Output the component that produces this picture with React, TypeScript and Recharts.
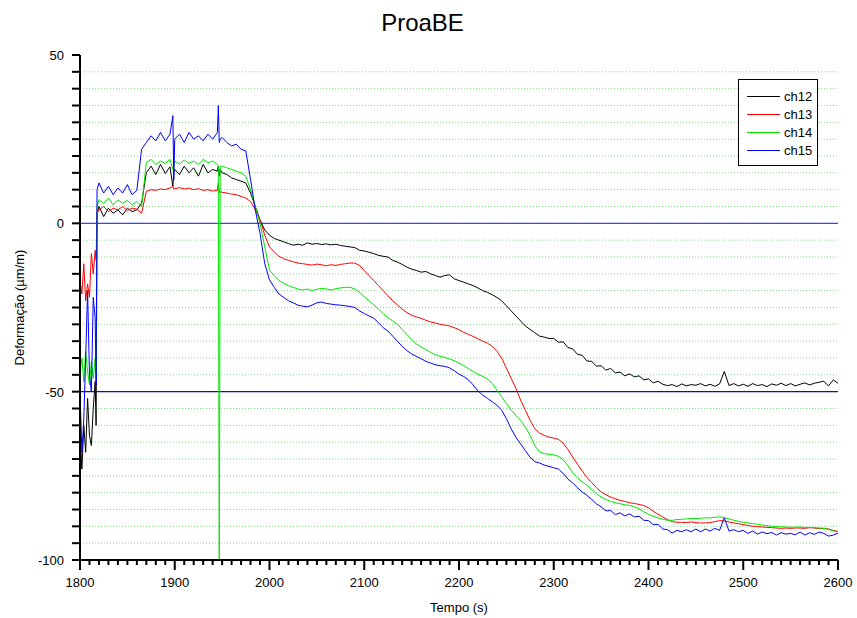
import React from "react";
import {
  CartesianGrid,
  Legend,
  Line,
  LineChart,
  ReferenceLine,
  XAxis,
  YAxis,
} from "recharts";

// time (s)
const times = [
  1800, 1802, 1804, 1806, 1808, 1810, 1812, 1814, 1816, 1817, 1818, 1820,
  1825, 1830, 1835, 1840, 1845, 1850, 1855, 1860, 1865, 1870, 1875, 1880, 1885, 1890, 1895,
  1898, 1899, 1900, 1905, 1910, 1915, 1920, 1925, 1930, 1935, 1940, 1945,
  1946, 1947, 1948, 1950, 1955, 1960, 1965, 1970, 1975, 1980, 1985, 1990, 1995,
  2000, 2005, 2010, 2015, 2020, 2025, 2030, 2035, 2040, 2045,
  2050, 2055, 2060, 2065, 2070, 2075, 2080, 2085, 2090, 2095,
  2100, 2105, 2110, 2115, 2120, 2125, 2130, 2135, 2140, 2145,
  2150, 2155, 2160, 2165, 2170, 2175, 2180, 2185, 2190, 2195,
  2200, 2205, 2210, 2215, 2220, 2225, 2230, 2235, 2240, 2245,
  2250, 2255, 2260, 2265, 2270, 2275, 2280, 2285, 2290, 2295,
  2300, 2305, 2310, 2315, 2320, 2325, 2330, 2335, 2340, 2345,
  2350, 2355, 2360, 2365, 2370, 2375, 2380, 2385, 2390, 2395,
  2400, 2405, 2410, 2415, 2420, 2425, 2430, 2435, 2440, 2445,
  2450, 2455, 2460, 2465, 2470, 2475, 2480, 2485, 2490, 2495,
  2500, 2505, 2510, 2515, 2520, 2525, 2530, 2535, 2540, 2545,
  2550, 2555, 2560, 2565, 2570, 2575, 2580, 2585, 2590, 2595, 2600,
];

const ch12 = [
  -62, -73, -60, -68, -52, -63, -66, -55, -47, -60, 3, 5,
  2, 4.5, 3, 4, 2.5, 4.5, 3.5, 4, 6, 15, 17, 14.5, 17.5, 14.8, 16.8,
  11, 15, 16, 14.5, 17, 15, 16.5, 14, 17.5, 15, 16, 15.5,
  17, 14, 16, 15, 14.5, 13.5, 13, 12.5, 12, 9, 5, 1, -2,
  -3.5, -4.5, -5, -5.5, -6, -6.5, -6.2, -6.5, -5.8, -6.2,
  -6, -6.3, -6.1, -6.4, -6.2, -6.6, -6.8, -7, -7.2, -8,
  -8.2, -8.6, -9, -9.5, -9.8, -10, -11, -11.5, -12.2, -13,
  -13.6, -14, -14.5, -14.3, -15, -15.5, -16, -15.5, -15.3, -16.5,
  -17, -17.5, -18, -18.5, -19.2, -20, -20.5, -21.2, -22, -23,
  -24.5, -26, -27.5, -29, -30.5, -31.5, -32.5, -33.5, -33.8, -34.2,
  -34.2, -35.3, -35.2, -36.9, -37.3, -38.9, -39.2, -40.9, -41, -42.4,
  -42.3, -43.6, -43.1, -44.4, -44.2, -45.3, -44.7, -45.6, -45.3, -46.5,
  -46.2, -47.4, -46.9, -47.8, -48.2, -47.9, -48.5, -47.7, -48.3, -47.9,
  -48.1, -47.6, -48.3, -47.8, -48.4, -47.7, -44, -48.2, -47.6, -48.3,
  -47.8, -48.4, -47.6, -48.2, -47.9, -48.5, -47.7, -48.1, -47.5, -48.2,
  -47.6, -48.3, -47.8, -47.4, -48, -47.5, -47.2, -46.9, -48.3, -46.5, -47.5,
];

const ch13 = [
  -17, -21, -12, -23, -18, -22, -9, -15, -8, -11, 3, 4,
  5, 3.5, 4.5, 4, 5, 3.8, 4.5, 4.2, 3, 9.5, 10, 9.8, 10.2, 10, 10.5,
  11, 10.2, 10.3, 10.6, 10.2, 10.5, 10, 10.3, 9.8, 10, 9.6, 9.8,
  12, 9, 9.5, 9.2, 9, 8.7, 8.5, 8, 7.5, 6.5, 4, 1, -3.5,
  -7, -8.5, -9.8, -10.5, -11, -11.4, -11.8, -12, -12.2, -12.4,
  -12.1, -12.3, -12.6, -12.3, -12.5, -12.2, -12, -11.8, -11.8, -12.5,
  -14, -15.5, -17, -18.5, -20, -21.5, -23, -24.2, -25.5, -26.5,
  -27.3, -27.8, -28.2, -28.8, -29.3, -29.6, -30, -30.2, -30.5, -31,
  -31.6, -32.4, -33, -33.6, -34.3, -35, -35.6, -36.5, -38, -40,
  -43, -46, -49, -52.5, -55.5, -58.5, -61, -62.3, -63, -63.5,
  -63.8, -64.2, -65.3, -67.2, -69.4, -71.5, -73.5, -75.5, -77, -78.5,
  -79.8, -80.6, -81.3, -81.8, -82.3, -82.6, -83, -83.2, -83.5, -83.8,
  -84.5, -85.5, -86.4, -87.2, -88, -88.6, -88.8, -88.8, -88.9, -88.7,
  -88.9, -89, -89, -88.9, -88.6, -88.3, -88.4, -88.7, -89, -89.2,
  -89.5, -89.7, -90, -90.1, -90.2, -90.3, -90.4, -90.5, -90.6, -90.5,
  -90.6, -90.5, -90.5, -90.6, -90.4, -90.5, -90.7, -90.6, -90.8, -91.2, -91.5,
];

const ch14 = [
  -45, -40, -47, -38, -44, -48, -41, -46, -40, -45, 5, 7,
  6, 7.5, 5.5, 7, 6, 6.8, 5.5, 6.5, 5, 18, 19, 17.5, 18.5, 17.8, 19,
  16, 17.5, 18.5, 17.6, 18.8, 17.8, 18.5, 17.5, 19, 18, 18.5, 17.5,
  17, -110, 17, 17, 16.5, 16, 15.5, 15, 14, 10, 5, 0, -7,
  -13.9, -15.5, -17, -17.8, -18.5, -19, -19.5, -19.8, -19.5, -20,
  -19.6, -19.3, -19.5, -19.8, -19.4, -19.2, -19, -19, -19.5, -20.5,
  -21.8, -23, -24.2, -25.5, -26.8, -28, -29, -30, -31.5, -33,
  -34.5, -35.8, -36.7, -37.5, -38.3, -39, -39.5, -39.8, -40.3, -40.8,
  -41.5, -42.3, -43.2, -44, -44.8, -45.5, -46.2, -47.5, -49.5, -51.5,
  -53.5, -55.5, -57, -58.5, -60.5, -63, -66, -67.9, -68.4, -68.6,
  -68.8, -69.2, -70.2, -72, -74.1, -75.6, -76.8, -77.8, -79, -80.3,
  -81.3, -82, -82.6, -83, -83.3, -83.6, -83.8, -84.2, -84.8, -85.7,
  -86.4, -87, -87.5, -87.9, -88.2, -88.2, -88, -87.9, -87.8, -87.7,
  -87.7, -87.6, -87.5, -87.5, -87.3, -87.2, -87.4, -87.8, -88.2, -88.5,
  -88.8, -89, -89.2, -89.4, -89.6, -89.8, -90, -90.1, -90.1, -90.2,
  -90.3, -90.2, -90.2, -90.4, -90.3, -90.4, -90.5, -90.6, -90.9, -91.4, -91.6,
];

const ch15 = [
  -50, -68, -58, -40, -20, -45, -50, -22, -28, -48, 10, 12,
  9, 11, 8.5, 10.5, 9, 11.5, 8.5, 9.8, 22, 24, 26, 24.5, 27, 24.5, 26.5,
  32, 13, 25, 26.5, 24, 27, 25, 26, 24.5, 26.5, 25, 27,
  35, 24, 25, 25.5, 24, 23, 23.5, 22, 21.5, 13, 4, -3, -12,
  -16.8, -19, -21, -22, -23, -23.6, -24.3, -24.6, -24.8, -24.3,
  -23.6, -23.4, -23.8, -24, -24.2, -24.3, -24.5, -24.7, -25, -26,
  -26.8, -27.5, -28.2, -29.5, -31, -32, -33.5, -35, -36.5, -37.8,
  -38.8, -39.5, -40.2, -41, -41.5, -42, -42.3, -42.5, -42.9, -43.8,
  -44.8, -45.5, -46.5, -48, -49.8, -51, -52, -53, -54, -55.5,
  -58, -61, -63.5, -65.5, -67.5, -69.5, -70.8, -71.2, -71.8, -72.2,
  -72.6, -73, -74.3, -76, -77.1, -78.5, -79.8, -80.8, -82, -83.3,
  -84.2, -85.4, -85.3, -86.5, -86, -86.9, -86.3, -87.2, -87, -88.2,
  -88.3, -89.5, -89.4, -90.8, -91, -92, -91.2, -91.6, -91, -91.6,
  -90.8, -91.6, -90.8, -91.4, -90.6, -91.2, -87.5, -91.4, -91, -91.6,
  -91.2, -92.1, -91.4, -92.3, -91.7, -92.2, -91.8, -92.6, -91.9, -92.3,
  -92.1, -92.5, -91.7, -92.6, -91.9, -92.4, -91.7, -92.1, -92.9, -92.6, -92,
];

const seriesNames = ["ch12", "ch13", "ch14", "ch15"];
const seriesColors = ["#000000", "#ff0000", "#00e600", "#0000ff"];

const xMajor = [1800, 1900, 2000, 2100, 2200, 2300, 2400, 2500, 2600];
const yLabels = [50, 0, -50, -100];

const xTicks: number[] = [];
for (let v = 1800; v <= 2600; v += 10) xTicks.push(v);
const yTicks: number[] = [];
for (let v = -100; v <= 50; v += 5) yTicks.push(v);
const gridValues = yTicks.filter((v) => v !== 50 && v !== -100);

const data = times.map((t, i) => ({
  t,
  ch12: ch12[i],
  ch13: ch13[i],
  ch14: ch14[i],
  ch15: ch15[i],
}));

const FONT = '"Liberation Sans", Arial, sans-serif';

const XTick = (props: any) => {
  const { x, y, payload } = props;
  const v = payload.value;
  const major = xMajor.includes(v);
  return (
    <g>
      <line x1={x} x2={x} y1={y} y2={y + (major ? 10 : 5)} stroke="#000" strokeWidth={2} />
      {major && (
        <text x={x} y={y + 27} textAnchor="middle" fontSize={13} fontFamily={FONT} fill="#000">
          {v}
        </text>
      )}
    </g>
  );
};

const YTick = (props: any) => {
  const { x, y, payload } = props;
  const v = payload.value;
  return (
    <g>
      <line x1={x - 8} x2={x} y1={y} y2={y} stroke="#000" strokeWidth={2} />
      {yLabels.includes(v) && (
        <text x={x - 16} y={y + 5} textAnchor="end" fontSize={13} fontFamily={FONT} fill="#000">
          {v}
        </text>
      )}
    </g>
  );
};

const LegendBox = (props: any) => {
  const { payload } = props;
  return (
    <div
      style={{
        width: 80,
        height: 87,
        border: "1px solid #000",
        background: "#fff",
        fontFamily: FONT,
        fontSize: 13,
        paddingTop: 7,
        boxSizing: "border-box",
      }}
    >
      {(payload || []).map((p: any) => (
        <div key={p.value} style={{ display: "flex", alignItems: "center", height: 18 }}>
          <div style={{ width: 33, height: 1, background: p.color, marginLeft: 8, marginRight: 4 }} />
          <span style={{ color: "#000" }}>{p.value}</span>
        </div>
      ))}
    </div>
  );
};

export default function App() {
  return (
    <div
      style={{
        position: "absolute",
        left: 0,
        top: 0,
        width: 857,
        height: 618,
        background: "#fff",
      }}
    >
      <div
        style={{
          position: "absolute",
          left: 0,
          width: 857,
          top: 9,
          textAlign: "center",
          fontFamily: FONT,
          fontSize: 24,
        }}
      >
        <span style={{ position: "relative", left: -6 }}>ProaBE</span>
      </div>
      <LineChart
        width={857}
        height={618}
        data={data}
        margin={{ top: 55, right: 19, bottom: 0, left: 0 }}
      >
        <CartesianGrid
          vertical={false}
          horizontalValues={gridValues}
          stroke="#7fdc7f"
          strokeDasharray="1 2"
        />
        <XAxis
          dataKey="t"
          type="number"
          domain={[1800, 2600]}
          ticks={xTicks}
          interval={0}
          height={58}
          tickSize={0}
          tickMargin={0}
          tickLine={false}
          tick={<XTick />}
          axisLine={{ stroke: "#000", strokeWidth: 2 }}
          allowDataOverflow
          label={{
            value: "Tempo (s)",
            position: "insideBottom",
            offset: 6,
            fontSize: 13,
            fontFamily: FONT,
            fill: "#000",
          }}
        />
        <YAxis
          type="number"
          domain={[-100, 50]}
          ticks={yTicks}
          interval={0}
          width={80}
          tickSize={0}
          tickMargin={0}
          tickLine={false}
          tick={<YTick />}
          axisLine={{ stroke: "#000", strokeWidth: 2 }}
          allowDataOverflow
          label={{
            value: "Deformação (µm/m)",
            angle: -90,
            position: "insideLeft",
            offset: 19,
            fontSize: 13,
            fontFamily: FONT,
            fill: "#000",
            style: { textAnchor: "middle" },
          }}
        />
        <ReferenceLine y={0} stroke="#3f3fff" strokeWidth={1.2} />
        <ReferenceLine y={-50} stroke="#1010b0" strokeWidth={1.2} />
        {seriesNames.map((name, i) => (
          <Line
            key={name}
            type="linear"
            dataKey={name}
            stroke={seriesColors[i]}
            strokeWidth={1}
            dot={false}
            activeDot={false}
            isAnimationActive={false}
          />
        ))}
        <Legend
          layout="vertical"
          align="center"
          verticalAlign="middle"
          content={<LegendBox />}
          wrapperStyle={{ left: 738, top: 79, width: 80, height: 87 }}
        />
      </LineChart>
    </div>
  );
}
